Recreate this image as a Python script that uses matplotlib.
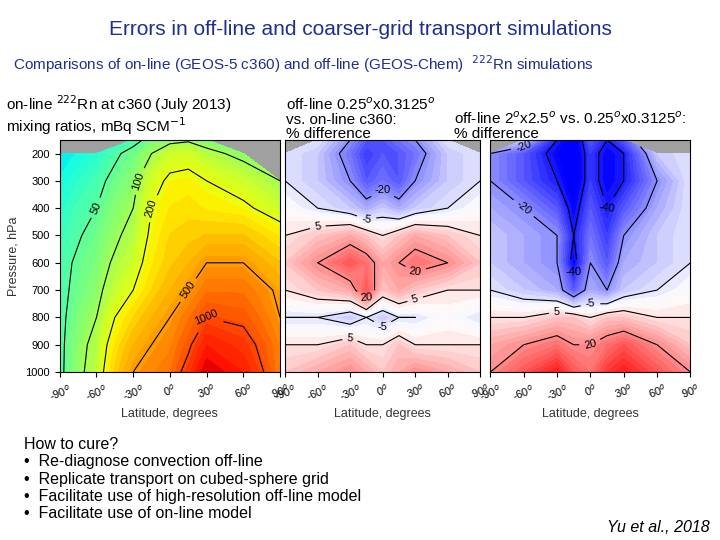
import numpy as np
import matplotlib.pyplot as plt
from matplotlib.colors import LogNorm

plt.rcParams['font.family'] = ['Liberation Sans', 'DejaVu Sans']

lats = [-90, -60, -30, -15, 0, 15, 30, 60, 90]
pres = [150, 200, 300, 400, 500, 600, 700, 800, 900, 1000]
nan = np.nan

rn_online = [
    [nan, nan, 40, 60, 80, 90, 70, nan, nan],
    [20, 30, 60, 100, 150, 160, 120, 80, nan],
    [25, 40, 80, 160, 220, 230, 200, 150, 100],
    [30, 50, 100, 200, 260, 280, 250, 220, 150],
    [35, 60, 120, 220, 300, 320, 350, 350, 250],
    [40, 70, 150, 250, 330, 400, 500, 500, 350],
    [40, 80, 200, 300, 400, 500, 700, 700, 450],
    [40, 100, 300, 400, 500, 700, 1000, 900, 500],
    [40, 120, 400, 500, 600, 900, 1500, 1200, 600],
    [40, 130, 500, 600, 700, 1200, 2000, 1500, 600],
]
diff_fine = [
    [nan, -5, -20, -30, -30, -25, -20, -5, nan],
    [-5, -10, -25, -35, -30, -30, -25, -10, -5],
    [-5, -10, -20, -30, -25, -30, -20, -10, -5],
    [0, -5, -10, -15, -10, -15, -10, -5, 0],
    [5, 10, 15, 10, 5, 10, 15, 10, 5],
    [10, 20, 30, 25, 15, 20, 25, 20, 10],
    [5, 10, 15, 30, 10, 15, 10, 5, 5],
    [-5, -5, -10, -5, -10, -5, -5, 0, -5],
    [5, 5, 10, 5, 5, 10, 5, 5, 5],
    [10, 15, 20, 15, 10, 15, 20, 15, 10],
]
diff_coarse = [
    [nan, -10, -40, -50, -30, -40, -30, nan, nan],
    [-20, -30, -45, -50, -35, -45, -40, -10, -5],
    [-20, -30, -40, -50, -35, -45, -40, -20, -5],
    [-15, -20, -30, -45, -30, -40, -30, -15, -5],
    [-10, -15, -20, -40, -25, -35, -20, -10, -5],
    [-10, -15, -20, -45, -20, -30, -15, -10, -5],
    [-5, -10, -15, -30, -15, -20, -10, -5, 0],
    [5, 5, 10, 10, 5, 10, 10, 5, 5],
    [15, 20, 25, 20, 20, 25, 30, 20, 10],
    [20, 30, 40, 30, 25, 35, 40, 30, 20],
]

fig = plt.figure(figsize=(7.2, 5.4), dpi=100)
fig.text(0.5, 0.935, "Errors in off-line and coarser-grid transport simulations",
         ha="center", fontsize=15, color="#1f2f8f")
fig.text(0.018, 0.87, "Comparisons of on-line (GEOS-5 c360) and off-line (GEOS-Chem)  $^{222}$Rn simulations",
         fontsize=11, color="#1f2f8f")
fig.text(0.008, 0.755, "on-line $^{222}$Rn at c360 (July 2013)\nmixing ratios, mBq SCM$^{-1}$",
         fontsize=11, linespacing=1.05)
fig.text(0.397, 0.745, "off-line 0.25$^o$x0.3125$^o$\nvs. on-line c360:\n% difference", fontsize=11, linespacing=1.0)
fig.text(0.63, 0.745, "off-line 2$^o$x2.5$^o$ vs. 0.25$^o$x0.3125$^o$:\n% difference", fontsize=11, linespacing=1.0)

X, Y = np.meshgrid(lats, pres)
axes = [fig.add_axes([0.083, 0.311, 0.306, 0.43]),
        fig.add_axes([0.396, 0.311, 0.271, 0.43]),
        fig.add_axes([0.681, 0.311, 0.278, 0.43])]
xt = [-90, -60, -30, 0, 30, 60, 90]
for i, ax in enumerate(axes):
    ax.set_facecolor("#a0a0a0")
    ax.set_ylim(1000, 150)
    ax.set_xlim(-90, 90)
    ax.set_xticks(xt)
    ax.set_xticklabels([f"{v}$^o$" for v in xt], fontsize=8, rotation=20)
    ax.set_xlabel("Latitude, degrees", fontsize=9, color="#333333")
    if i == 0:
        ax.set_yticks(range(200, 1001, 100))
        ax.tick_params(axis="y", labelsize=8)
        ax.set_ylabel("Pressure, hPa", fontsize=9, color="#333333")
    else:
        ax.set_yticks([])

Z = np.ma.masked_invalid(np.array(rn_online))
axes[0].contourf(X, Y, Z, levels=np.logspace(1, 3.5, 40), cmap="jet", norm=LogNorm(1.2, 4000))
cs = axes[0].contour(X, Y, Z, levels=[50, 100, 200, 500, 1000], colors="k", linewidths=0.8)
axes[0].clabel(cs, fmt="%d", fontsize=8)

for ax, d in [(axes[1], diff_fine), (axes[2], diff_coarse)]:
    Z = np.ma.masked_invalid(np.array(d))
    ax.contourf(X, Y, Z, levels=np.linspace(-60, 60, 49), cmap="bwr", vmin=-45, vmax=45, extend="both")
    cs = ax.contour(X, Y, Z, levels=[-40, -20, -5, 5, 20, 40], colors="k",
                    linewidths=0.8, linestyles="solid")
    ax.clabel(cs, fmt="%d", fontsize=8)

fig.text(0.033, 0.04, "How to cure?\n•  Re-diagnose convection off-line\n•  Replicate transport on cubed-sphere grid\n"
         "•  Facilitate use of high-resolution off-line model\n•  Facilitate use of on-line model",
         fontsize=11.5, linespacing=1.2)
fig.text(0.985, 0.015, "Yu et al., 2018", ha="right", fontsize=11.5, style="italic")

fig.savefig("out.png", dpi=100)
